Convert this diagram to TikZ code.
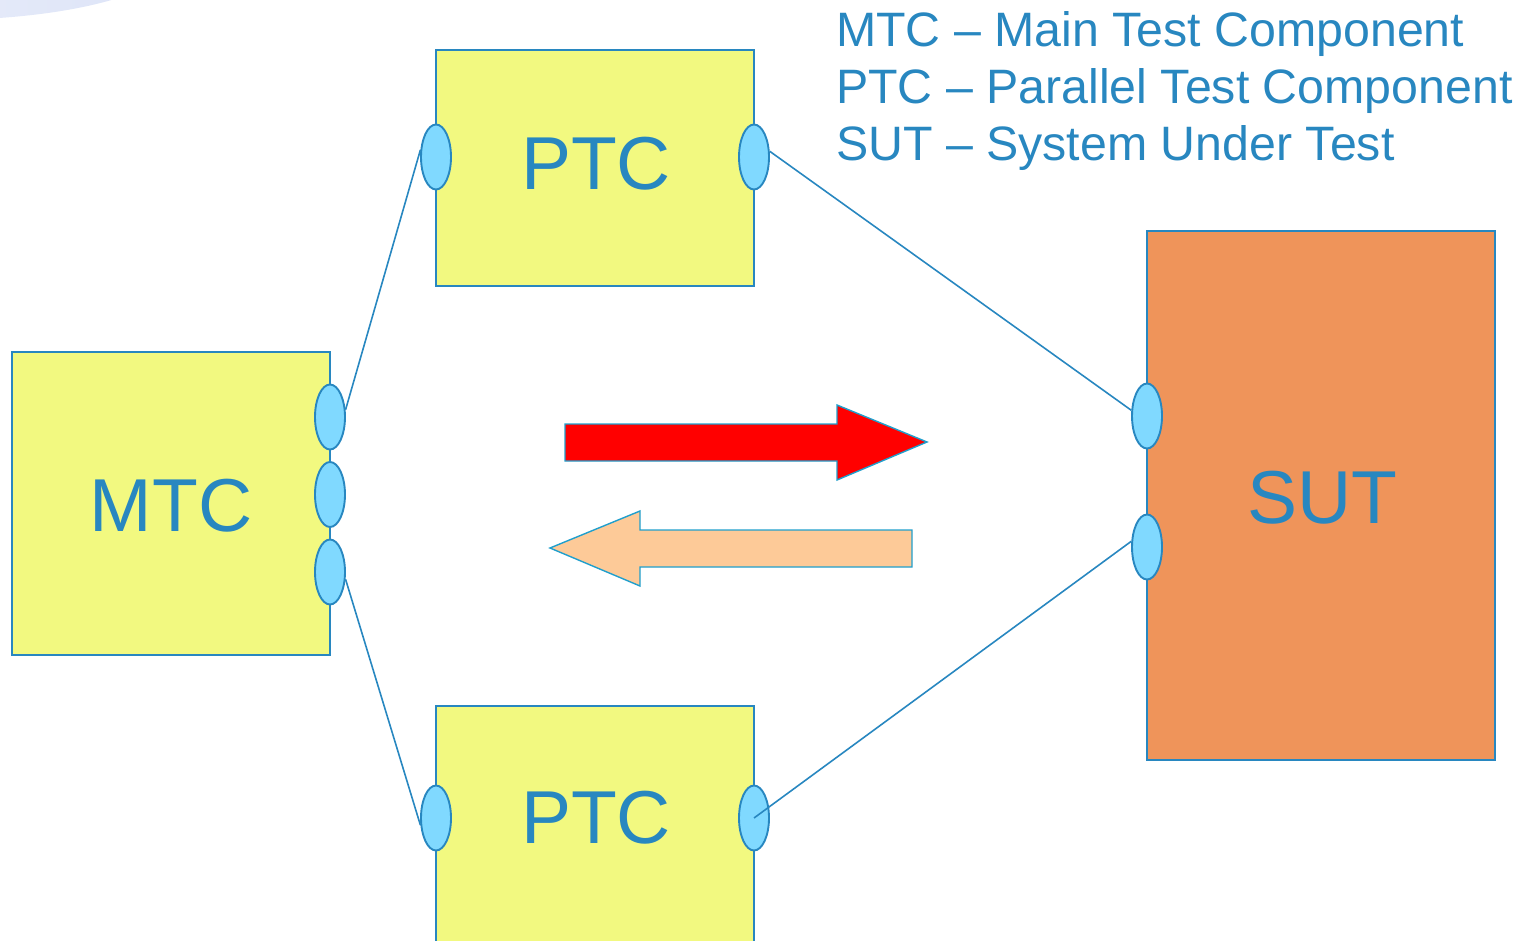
\documentclass[tikz,border=0pt]{standalone}
\usepackage{fontspec}
\setmainfont{Liberation Sans}
\usetikzlibrary{shapes.geometric}
\definecolor{compfill}{RGB}{242,249,128}
\definecolor{inkblue}{RGB}{40,135,192}
\definecolor{portfill}{RGB}{128,217,255}
\definecolor{sutfill}{RGB}{239,148,90}
\definecolor{peach}{RGB}{253,202,152}
\definecolor{swoosh}{RGB}{220,227,247}
\tikzset{
  comp/.style={draw=inkblue, line width=1.6pt, fill=compfill, inner sep=0pt},
  sutbox/.style={draw=inkblue, line width=1.6pt, fill=sutfill, inner sep=0pt},
  port/.style={ellipse, draw=inkblue, line width=1.9pt, fill=portfill,
    minimum width=30pt, minimum height=65pt, inner sep=0pt},
  link/.style={draw=inkblue, line width=1.6pt},
  biglabel/.style={text=inkblue, font=\fontsize{75}{80}\selectfont, inner sep=0pt},
  legend/.style={text=inkblue, font=\fontsize{48.3}{55}\selectfont, inner sep=0pt, anchor=base west},
  bigarrow/.style={draw=inkblue!80!cyan, line width=1.4pt, line join=miter}
}
\begin{document}
\begin{tikzpicture}[x=1pt, y=-1pt]
\useasboundingbox (0,0) rectangle (1520,941);
\clip (0,0) rectangle (1520,941);

% faint corner ornament
\shade[left color=white, right color=swoosh, middle color=swoosh!70]
  (-60,-40) ellipse [x radius=230, y radius=60];

% components
\node[comp, minimum width=318pt, minimum height=236pt] (ptcA) at (595,168) {};
\node[comp, minimum width=318pt, minimum height=303pt] (mtc) at (171,503.5) {};
\node[comp, minimum width=318pt, minimum height=260pt] (ptcB) at (595,836) {};
\node[sutbox, minimum width=348pt, minimum height=529pt] (sut) at (1321,495.5) {};

% component labels
\node[biglabel, anchor=base] (ptcAtxt) at (596,190) {PTC};
\node[biglabel, anchor=base] (mtctxt) at (171,531) {MTC};
\node[biglabel, anchor=base] (ptcBtxt) at (596,843) {PTC};
\node[biglabel, anchor=base] (suttxt) at (1322,523) {SUT};

% ports
\node[port] (m1) at (330,417) {};
\node[port] (m2) at (330,494.5) {};
\node[port] (m3) at (330,572) {};
\node[port] (paL) at (436,157) {};
\node[port] (paR) at (754,157) {};
\node[port] (pbL) at (436,818) {};
\node[port] (pbR) at (754,818) {};
\node[port] (s1) at (1147,416) {};
\node[port] (s2) at (1147,547) {};

% connections
\draw[link] (m1.25) -- (paL.155);
\draw[link] (m3.-25) -- (pbL.205);
\draw[link] (paR.20) -- (s1.160);
\draw[link] (pbR.center) -- (s2.160);

% message arrows
\draw[bigarrow, fill=red] (565,424) -- (837,424) -- (837,405) -- (927,442)
  -- (837,480) -- (837,461) -- (565,461) -- cycle;
\draw[bigarrow, fill=peach] (912,530) -- (640,530) -- (640,511) -- (550,548)
  -- (640,586) -- (640,567) -- (912,567) -- cycle;

% legend
\node[legend] (lg1) at (836,47) {MTC – Main Test Component};
\node[legend] (lg2) at (836,104) {PTC – Parallel Test Component};
\node[legend] (lg3) at (836,161) {SUT – System Under Test};
\end{tikzpicture}
\end{document}
